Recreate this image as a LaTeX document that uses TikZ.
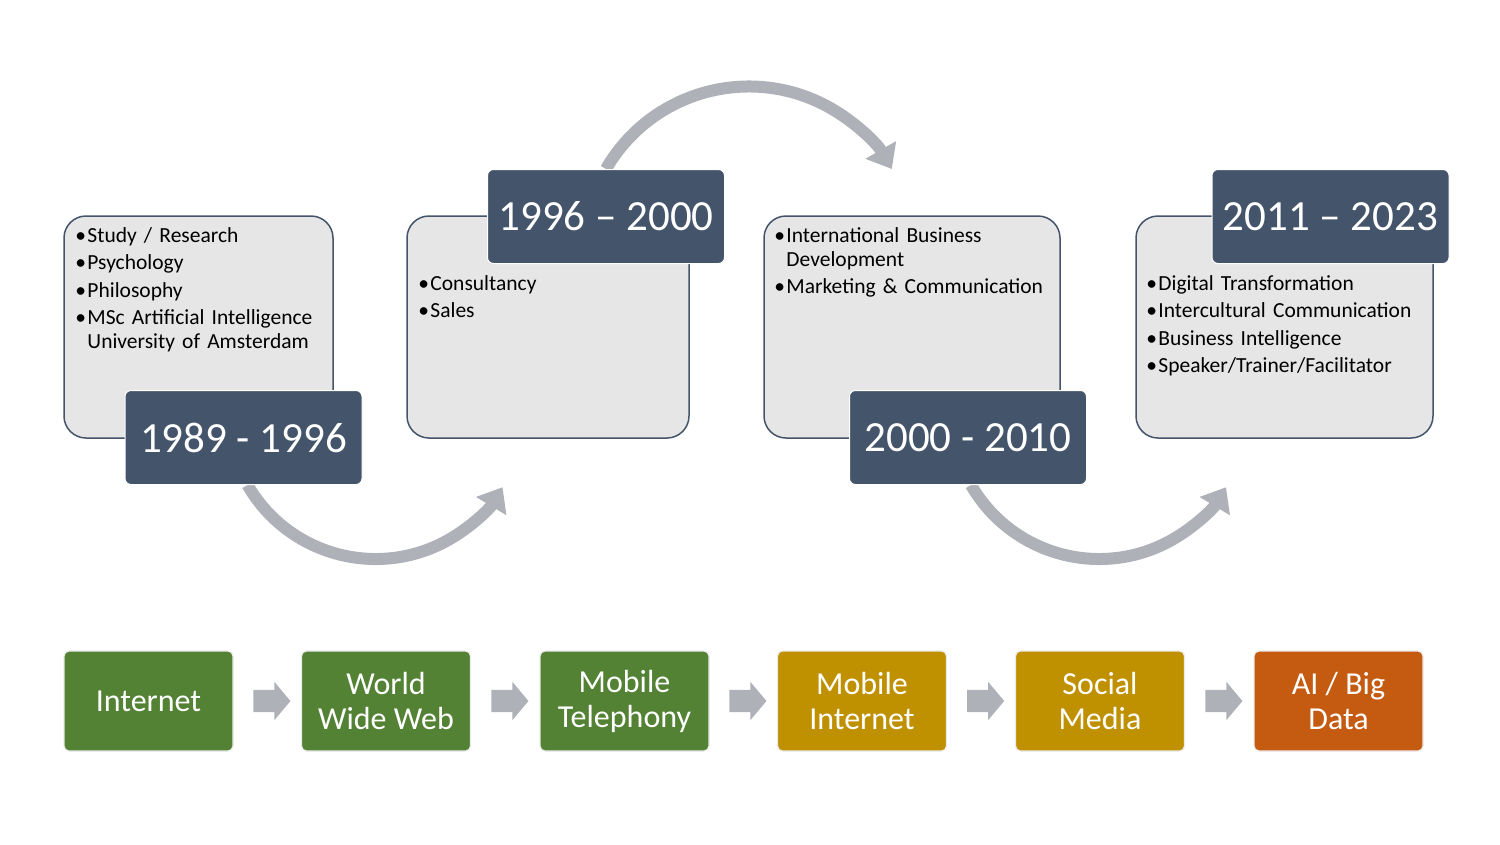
\documentclass[tikz,border=0pt]{standalone}
\usepackage{fontspec}
\setmainfont{Carlito}
\usepackage{xcolor}
\usetikzlibrary{arrows.meta,shapes.arrows,backgrounds,positioning}

\definecolor{slate}{HTML}{44546A}
\definecolor{panelgray}{HTML}{E7E6E6}
\definecolor{flowgray}{RGB}{174,177,184}
\definecolor{techgreen}{HTML}{548235}
\definecolor{techgold}{HTML}{BF9000}
\definecolor{techorange}{HTML}{C55A11}

\newcommand{\lstfont}{\fontsize{21.5}{24}\selectfont}
% first bullet starts the list, the others open a new paragraph
\newcommand{\fitem}{\parskip=3.5pt\leftskip=13pt\rightskip=0pt plus 1fil%
  \noindent\llap{\hbox to 13pt{\hskip1pt\textbullet\hfil}}}
\newcommand{\bitem}{\par\fitem}

\begin{document}
\begin{tikzpicture}[x=1pt, y=-1pt,
  panel/.style={draw=slate, line width=1.5pt, fill=panelgray, rounded corners=22pt,
                minimum height=222pt, inner sep=0pt},
  yearbox/.style={draw=white, line width=1pt, fill=slate, rounded corners=6pt,
                  minimum width=237pt, minimum height=94pt, text=white,
                  font=\fontsize{43}{50}\selectfont},
  lst/.style={anchor=base west, inner sep=0pt, font=\lstfont},
  tech/.style={draw=black!8, line width=1.2pt, rounded corners=5pt, text=white,
               minimum width=169pt, minimum height=100pt, align=center,
               font=\fontsize{32}{35}\selectfont},
  flowarr/.style={draw=flowgray, line width=12pt, -{Triangle[length=22pt, width=34pt]}},
  blockarr/.style={single arrow, fill=flowgray, inner xsep=0pt, inner ysep=11pt,
                   minimum height=37pt, single arrow head extend=8pt,
                   single arrow tip angle=100},
]
\useasboundingbox (0,0) rectangle (1500,844);
% --- Panels (top row) ---
\node[panel, minimum width=269pt] (p1) at (198.5, 327) {};
\node[panel, minimum width=282pt] (p2) at (548,   327) {};
\node[panel, minimum width=296pt] (p3) at (912,   327) {};
\node[panel, minimum width=297pt] (p4) at (1284.5,327) {};
% --- Bullet lists ---
\node[lst, text width=250pt] (l1) at ([xshift=11pt, yshift=-27pt]p1.north west)
  {\fitem Study / Research \bitem Psychology \bitem Philosophy
   \bitem MSc Artificial Intelligence\newline University of Amsterdam\par};
\node[lst, text width=260pt] (l2) at ([xshift=11pt, yshift=-75pt]p2.north west)
  {\fitem Consultancy \bitem Sales\par};
\node[lst, text width=280pt] (l3) at ([xshift=10pt, yshift=-27pt]p3.north west)
  {\fitem International Business\newline Development \bitem Marketing \& Communication\par};
\node[lst, text width=280pt] (l4) at ([xshift=10pt, yshift=-75pt]p4.north west)
  {\fitem Digital Transformation \bitem Intercultural Communication
   \bitem Business Intelligence \bitem Speaker/Trainer/Facilitator\par};
% --- Year labels ---
\node[yearbox] (y1) at (243.5,  437.5) {1989 - 1996};
\node[yearbox] (y2) at (606,    216.5) {1996 -- 2000};
\node[yearbox] (y3) at (968,    437.5) {2000 - 2010};
\node[yearbox] (y4) at (1330.5, 216.5) {2011 -- 2023};
% --- Curved arrows behind the labels ---
\begin{scope}[on background layer]
\draw[flowarr] ([xshift=4pt]y1.south) arc[start angle=210, end angle=329, radius=148pt];
\draw[flowarr] (y2.north) arc[start angle=150, end angle=30, radius=165pt];
\draw[flowarr] ([xshift=3pt]y3.south) arc[start angle=210, end angle=329, radius=148pt];
\end{scope}
% --- Technology row ---
\node[tech, fill=techgreen]  (t1) at (148.5,  701) {Internet};
\node[tech, fill=techgreen]  (t2) at (386,    701) {World\\ Wide Web};
\node[tech, fill=techgreen]  (t3) at (624.5,  701) {Mobile\\ Telephony};
\node[tech, fill=techgold]   (t4) at (862,    701) {Mobile\\ Internet};
\node[tech, fill=techgold]   (t5) at (1100,   701) {Social\\ Media};
\node[tech, fill=techorange] (t6) at (1338.5, 701) {AI / Big\\ Data};
\foreach \i [count=\j from 2] in {1,...,5}
  \path (t\i) -- (t\j) node[midway, blockarr] (b\i) {};
\end{tikzpicture}
\end{document}
